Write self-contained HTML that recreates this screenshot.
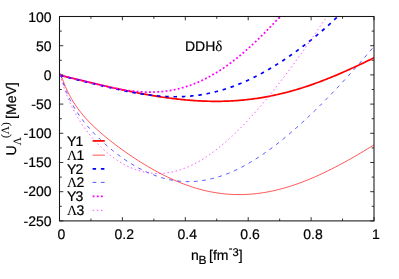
<!DOCTYPE html>
<html><head><meta charset="utf-8"><title>DDH delta</title>
<style>
html,body{margin:0;padding:0;background:#fff;}
body{width:399px;height:279px;overflow:hidden;font-family:"Liberation Sans",sans-serif;}
svg{display:block;will-change:transform;}
text{font-family:"Liberation Sans",sans-serif;font-size:14px;fill:#000;stroke:#000;stroke-width:0.2px;text-rendering:geometricPrecision;}
.sym{font-family:"Liberation Serif",serif;stroke-width:0.1px;}
</style></head><body>
<svg width="399" height="279" viewBox="0 0 399 279">
<rect x="0" y="0" width="399" height="279" fill="#ffffff"/>
<defs><clipPath id="pc"><rect x="59.5" y="16.5" width="314.5" height="204.4"/></clipPath></defs>
<path d="M59.50,220.9 v-3.8 M59.50,16.5 v3.8 M90.95,220.9 v-2.3 M90.95,16.5 v2.3 M122.40,220.9 v-3.8 M122.40,16.5 v3.8 M153.85,220.9 v-2.3 M153.85,16.5 v2.3 M185.30,220.9 v-3.8 M185.30,16.5 v3.8 M216.75,220.9 v-2.3 M216.75,16.5 v2.3 M248.20,220.9 v-3.8 M248.20,16.5 v3.8 M279.65,220.9 v-2.3 M279.65,16.5 v2.3 M311.10,220.9 v-3.8 M311.10,16.5 v3.8 M342.55,220.9 v-2.3 M342.55,16.5 v2.3 M374.00,220.9 v-3.8 M374.00,16.5 v3.8 M59.5,16.50 h3.8 M374.0,16.50 h-3.8 M59.5,31.10 h2.3 M374.0,31.10 h-2.3 M59.5,45.70 h3.8 M374.0,45.70 h-3.8 M59.5,60.30 h2.3 M374.0,60.30 h-2.3 M59.5,74.90 h3.8 M374.0,74.90 h-3.8 M59.5,89.50 h2.3 M374.0,89.50 h-2.3 M59.5,104.10 h3.8 M374.0,104.10 h-3.8 M59.5,118.70 h2.3 M374.0,118.70 h-2.3 M59.5,133.30 h3.8 M374.0,133.30 h-3.8 M59.5,147.90 h2.3 M374.0,147.90 h-2.3 M59.5,162.50 h3.8 M374.0,162.50 h-3.8 M59.5,177.10 h2.3 M374.0,177.10 h-2.3 M59.5,191.70 h3.8 M374.0,191.70 h-3.8 M59.5,206.30 h2.3 M374.0,206.30 h-2.3 M59.5,220.90 h3.8 M374.0,220.90 h-3.8" stroke="#111" stroke-width="0.85" fill="none"/>
<g clip-path="url(#pc)" fill="none" stroke-linecap="butt" stroke-linejoin="round">
<path d="M59.90,75.30 L60.21,75.37 L60.52,75.45 L60.82,75.52 L61.13,75.59 L61.44,75.67 L61.75,75.74 L62.05,75.82 L62.36,75.89 L62.67,75.96 L62.98,76.04 L63.28,76.11 L63.59,76.18 L63.90,76.26 L64.21,76.33 L64.52,76.41 L64.82,76.48 L65.13,76.55 L65.44,76.63 L65.75,76.70 L66.05,76.77 L66.36,76.85 L66.67,76.92 L66.98,76.99 L67.28,77.07 L67.59,77.14 L67.90,77.22 L68.21,77.29 L68.52,77.36 L68.82,77.44 L69.13,77.51 L69.44,77.58 L69.75,77.66 L70.05,77.73 L70.36,77.81 L70.67,77.88 L70.98,77.95 L71.28,78.03 L71.59,78.10 L71.90,78.17 L73.35,78.52 L74.80,78.87 L76.25,79.21 L77.70,79.56 L79.15,79.91 L80.60,80.25 L82.05,80.60 L83.50,80.94 L84.95,81.29 L86.40,81.63 L87.85,81.97 L89.30,82.31 L90.75,82.66 L92.20,83.00 L93.65,83.34 L95.10,83.67 L96.55,84.01 L98.00,84.35 L99.45,84.68 L100.90,85.02 L102.36,85.35 L103.81,85.68 L105.26,86.01 L106.71,86.34 L108.16,86.67 L109.61,86.99 L111.06,87.32 L112.51,87.64 L113.96,87.96 L115.41,88.28 L116.86,88.59 L118.31,88.91 L119.76,89.22 L121.21,89.53 L122.66,89.84 L124.11,90.14 L125.56,90.45 L127.01,90.75 L128.46,91.04 L129.91,91.34 L131.36,91.63 L132.81,91.92 L134.26,92.21 L135.71,92.49 L137.16,92.77 L138.61,93.05 L140.06,93.33 L141.51,93.60 L142.96,93.87 L144.41,94.13 L145.86,94.39 L147.31,94.65 L148.76,94.90 L150.21,95.15 L151.66,95.40 L153.11,95.64 L154.56,95.88 L156.01,96.12 L157.46,96.35 L158.91,96.57 L160.36,96.80 L161.81,97.01 L163.27,97.23 L164.72,97.44 L166.17,97.64 L167.62,97.84 L169.07,98.03 L170.52,98.22 L171.97,98.41 L173.42,98.59 L174.87,98.76 L176.32,98.93 L177.77,99.10 L179.22,99.26 L180.67,99.41 L182.12,99.56 L183.57,99.71 L185.02,99.84 L186.47,99.98 L187.92,100.10 L189.37,100.22 L190.82,100.34 L192.27,100.45 L193.72,100.55 L195.17,100.65 L196.62,100.74 L198.07,100.82 L199.52,100.90 L200.97,100.97 L202.42,101.04 L203.87,101.10 L205.32,101.15 L206.77,101.20 L208.22,101.24 L209.67,101.27 L211.12,101.30 L212.57,101.31 L214.02,101.33 L215.47,101.33 L216.92,101.33 L218.37,101.32 L219.82,101.31 L221.27,101.29 L222.72,101.26 L224.18,101.22 L225.63,101.18 L227.08,101.12 L228.53,101.07 L229.98,101.00 L231.43,100.93 L232.88,100.84 L234.33,100.76 L235.78,100.66 L237.23,100.56 L238.68,100.45 L240.13,100.33 L241.58,100.20 L243.03,100.06 L244.48,99.92 L245.93,99.77 L247.38,99.62 L248.83,99.45 L250.28,99.28 L251.73,99.09 L253.18,98.91 L254.63,98.71 L256.08,98.50 L257.53,98.29 L258.98,98.07 L260.43,97.84 L261.88,97.60 L263.33,97.36 L264.78,97.11 L266.23,96.84 L267.68,96.58 L269.13,96.30 L270.58,96.01 L272.03,95.72 L273.48,95.42 L274.93,95.11 L276.38,94.79 L277.83,94.47 L279.28,94.14 L280.73,93.79 L282.18,93.45 L283.63,93.09 L285.09,92.72 L286.54,92.35 L287.99,91.97 L289.44,91.58 L290.89,91.19 L292.34,90.78 L293.79,90.37 L295.24,89.95 L296.69,89.53 L298.14,89.09 L299.59,88.65 L301.04,88.20 L302.49,87.75 L303.94,87.28 L305.39,86.81 L306.84,86.33 L308.29,85.85 L309.74,85.35 L311.19,84.85 L312.64,84.35 L314.09,83.83 L315.54,83.31 L316.99,82.78 L318.44,82.25 L319.89,81.71 L321.34,81.16 L322.79,80.61 L324.24,80.05 L325.69,79.48 L327.14,78.91 L328.59,78.33 L330.04,77.74 L331.49,77.15 L332.94,76.56 L334.39,75.95 L335.84,75.35 L337.29,74.73 L338.74,74.12 L340.19,73.49 L341.64,72.86 L343.09,72.23 L344.54,71.59 L346.00,70.95 L347.45,70.30 L348.90,69.65 L350.35,68.99 L351.80,68.33 L353.25,67.67 L354.70,67.00 L356.15,66.33 L357.60,65.65 L359.05,64.97 L360.50,64.29 L361.95,63.61 L363.40,62.92 L364.85,62.23 L366.30,61.54 L367.75,60.84 L369.20,60.14 L370.65,59.45 L372.10,58.74 L373.55,58.04 L375.00,57.34" stroke="#ff0000" stroke-width="1.7"/>
<path d="M59.90,75.30 L60.21,73.56 L60.52,73.97 L60.82,74.65 L61.13,75.42 L61.44,76.23 L61.75,77.07 L62.05,77.91 L62.36,78.75 L62.67,79.58 L62.98,80.41 L63.28,81.22 L63.59,82.02 L63.90,82.81 L64.21,83.59 L64.52,84.35 L64.82,85.11 L65.13,85.85 L65.44,86.57 L65.75,87.29 L66.05,87.99 L66.36,88.68 L66.67,89.36 L66.98,90.03 L67.28,90.69 L67.59,91.34 L67.90,91.98 L68.21,92.60 L68.52,93.22 L68.82,93.83 L69.13,94.43 L69.44,95.02 L69.75,95.61 L70.05,96.18 L70.36,96.75 L70.67,97.30 L70.98,97.85 L71.28,98.40 L71.59,98.93 L71.90,99.46 L73.35,101.87 L74.80,104.14 L76.25,106.29 L77.70,108.33 L79.15,110.29 L80.60,112.16 L82.05,113.95 L83.50,115.68 L84.95,117.35 L86.40,118.96 L87.85,120.52 L89.30,122.04 L90.75,123.52 L92.20,124.96 L93.65,126.37 L95.10,127.74 L96.55,129.08 L98.00,130.40 L99.45,131.70 L100.90,132.97 L102.36,134.22 L103.81,135.45 L105.26,136.66 L106.71,137.85 L108.16,139.03 L109.61,140.19 L111.06,141.34 L112.51,142.47 L113.96,143.59 L115.41,144.69 L116.86,145.79 L118.31,146.87 L119.76,147.93 L121.21,148.99 L122.66,150.04 L124.11,151.07 L125.56,152.09 L127.01,153.11 L128.46,154.11 L129.91,155.10 L131.36,156.08 L132.81,157.05 L134.26,158.01 L135.71,158.96 L137.16,159.90 L138.61,160.83 L140.06,161.75 L141.51,162.66 L142.96,163.55 L144.41,164.44 L145.86,165.31 L147.31,166.18 L148.76,167.03 L150.21,167.87 L151.66,168.71 L153.11,169.53 L154.56,170.33 L156.01,171.13 L157.46,171.92 L158.91,172.69 L160.36,173.45 L161.81,174.20 L163.27,174.94 L164.72,175.67 L166.17,176.38 L167.62,177.08 L169.07,177.77 L170.52,178.45 L171.97,179.11 L173.42,179.76 L174.87,180.40 L176.32,181.02 L177.77,181.63 L179.22,182.23 L180.67,182.82 L182.12,183.39 L183.57,183.95 L185.02,184.49 L186.47,185.02 L187.92,185.54 L189.37,186.04 L190.82,186.53 L192.27,187.01 L193.72,187.47 L195.17,187.91 L196.62,188.35 L198.07,188.77 L199.52,189.17 L200.97,189.56 L202.42,189.94 L203.87,190.30 L205.32,190.64 L206.77,190.98 L208.22,191.29 L209.67,191.60 L211.12,191.89 L212.57,192.16 L214.02,192.42 L215.47,192.67 L216.92,192.90 L218.37,193.11 L219.82,193.31 L221.27,193.50 L222.72,193.67 L224.18,193.83 L225.63,193.97 L227.08,194.10 L228.53,194.21 L229.98,194.31 L231.43,194.40 L232.88,194.47 L234.33,194.52 L235.78,194.57 L237.23,194.59 L238.68,194.61 L240.13,194.60 L241.58,194.59 L243.03,194.56 L244.48,194.51 L245.93,194.45 L247.38,194.38 L248.83,194.30 L250.28,194.19 L251.73,194.08 L253.18,193.95 L254.63,193.81 L256.08,193.65 L257.53,193.48 L258.98,193.30 L260.43,193.11 L261.88,192.90 L263.33,192.67 L264.78,192.44 L266.23,192.19 L267.68,191.92 L269.13,191.65 L270.58,191.36 L272.03,191.06 L273.48,190.75 L274.93,190.42 L276.38,190.08 L277.83,189.73 L279.28,189.37 L280.73,188.99 L282.18,188.60 L283.63,188.20 L285.09,187.79 L286.54,187.37 L287.99,186.93 L289.44,186.49 L290.89,186.03 L292.34,185.56 L293.79,185.08 L295.24,184.59 L296.69,184.08 L298.14,183.57 L299.59,183.05 L301.04,182.51 L302.49,181.97 L303.94,181.41 L305.39,180.84 L306.84,180.27 L308.29,179.68 L309.74,179.09 L311.19,178.48 L312.64,177.87 L314.09,177.24 L315.54,176.61 L316.99,175.97 L318.44,175.31 L319.89,174.65 L321.34,173.98 L322.79,173.30 L324.24,172.62 L325.69,171.92 L327.14,171.22 L328.59,170.50 L330.04,169.78 L331.49,169.06 L332.94,168.32 L334.39,167.58 L335.84,166.83 L337.29,166.07 L338.74,165.30 L340.19,164.53 L341.64,163.75 L343.09,162.96 L344.54,162.17 L346.00,161.37 L347.45,160.57 L348.90,159.76 L350.35,158.94 L351.80,158.11 L353.25,157.28 L354.70,156.45 L356.15,155.61 L357.60,154.76 L359.05,153.91 L360.50,153.05 L361.95,152.19 L363.40,151.32 L364.85,150.45 L366.30,149.57 L367.75,148.69 L369.20,147.81 L370.65,146.92 L372.10,146.02 L373.55,145.12 L375.00,144.22" stroke="#ff0000" stroke-width="0.68"/>
<path d="M59.90,75.30 L60.21,75.38 L60.52,75.46 L60.82,75.54 L61.13,75.62 L61.44,75.70 L61.75,75.78 L62.05,75.86 L62.36,75.93 L62.67,76.01 L62.98,76.09 L63.28,76.17 L63.59,76.25 L63.90,76.33 L64.21,76.41 L64.52,76.49 L64.82,76.56 L65.13,76.64 L65.44,76.72 L65.75,76.80 L66.05,76.88 L66.36,76.96 L66.67,77.03 L66.98,77.11 L67.28,77.19 L67.59,77.27 L67.90,77.35 L68.21,77.42 L68.52,77.50 L68.82,77.58 L69.13,77.66 L69.44,77.74 L69.75,77.81 L70.05,77.89 L70.36,77.97 L70.67,78.05 L70.98,78.12 L71.28,78.20 L71.59,78.28 L71.90,78.36 L73.35,78.72 L74.79,79.08 L76.24,79.45 L77.69,79.81 L79.13,80.17 L80.58,80.53 L82.03,80.89 L83.47,81.25 L84.92,81.61 L86.37,81.97 L87.81,82.33 L89.26,82.68 L90.71,83.04 L92.15,83.40 L93.60,83.75 L95.05,84.10 L96.50,84.45 L97.94,84.81 L99.39,85.15 L100.84,85.50 L102.28,85.85 L103.73,86.19 L105.18,86.53 L106.62,86.87 L108.07,87.21 L109.52,87.54 L110.96,87.88 L112.41,88.21 L113.86,88.53 L115.30,88.85 L116.75,89.17 L118.20,89.49 L119.64,89.80 L121.09,90.11 L122.54,90.41 L123.98,90.71 L125.43,91.01 L126.88,91.30 L128.32,91.58 L129.77,91.86 L131.22,92.13 L132.66,92.40 L134.11,92.66 L135.56,92.92 L137.00,93.17 L138.45,93.41 L139.90,93.65 L141.35,93.88 L142.79,94.10 L144.24,94.31 L145.69,94.52 L147.13,94.72 L148.58,94.91 L150.03,95.09 L151.47,95.26 L152.92,95.43 L154.37,95.59 L155.81,95.73 L157.26,95.87 L158.71,96.00 L160.15,96.12 L161.60,96.23 L163.05,96.32 L164.49,96.41 L165.94,96.49 L167.39,96.56 L168.83,96.61 L170.28,96.66 L171.73,96.69 L173.17,96.72 L174.62,96.73 L176.07,96.73 L177.51,96.72 L178.96,96.69 L180.41,96.66 L181.85,96.61 L183.30,96.55 L184.75,96.48 L186.20,96.39 L187.64,96.29 L189.09,96.18 L190.54,96.06 L191.98,95.92 L193.43,95.77 L194.88,95.61 L196.32,95.43 L197.77,95.25 L199.22,95.04 L200.66,94.83 L202.11,94.60 L203.56,94.35 L205.00,94.10 L206.45,93.83 L207.90,93.54 L209.34,93.25 L210.79,92.94 L212.24,92.61 L213.68,92.27 L215.13,91.92 L216.58,91.55 L218.02,91.17 L219.47,90.78 L220.92,90.37 L222.36,89.95 L223.81,89.51 L225.26,89.06 L226.70,88.60 L228.15,88.12 L229.60,87.63 L231.05,87.13 L232.49,86.61 L233.94,86.08 L235.39,85.53 L236.83,84.97 L238.28,84.40 L239.73,83.82 L241.17,83.22 L242.62,82.61 L244.07,81.98 L245.51,81.34 L246.96,80.69 L248.41,80.03 L249.85,79.35 L251.30,78.66 L252.75,77.96 L254.19,77.24 L255.64,76.51 L257.09,75.77 L258.53,75.02 L259.98,74.26 L261.43,73.48 L262.87,72.69 L264.32,71.89 L265.77,71.08 L267.21,70.25 L268.66,69.42 L270.11,68.57 L271.55,67.71 L273.00,66.84 L274.45,65.95 L275.90,65.06 L277.34,64.15 L278.79,63.24 L280.24,62.31 L281.68,61.37 L283.13,60.42 L284.58,59.46 L286.02,58.49 L287.47,57.51 L288.92,56.52 L290.36,55.51 L291.81,54.50 L293.26,53.48 L294.70,52.44 L296.15,51.40 L297.60,50.34 L299.04,49.27 L300.49,48.20 L301.94,47.11 L303.38,46.01 L304.83,44.90 L306.28,43.78 L307.72,42.65 L309.17,41.51 L310.62,40.36 L312.06,39.20 L313.51,38.02 L314.96,36.84 L316.40,35.64 L317.85,34.44 L319.30,33.22 L320.75,31.99 L322.19,30.74 L323.64,29.49 L325.09,28.22 L326.53,26.94 L327.98,25.65 L329.43,24.35 L330.87,23.03 L332.32,21.70 L333.77,20.35 L335.21,18.99 L336.66,17.62 L338.11,16.23 L339.55,14.82 L341.00,13.40" stroke="#0000ff" stroke-width="1.7" stroke-dasharray="3.5,4.8" stroke-dashoffset="0.3"/>
<path d="M59.90,75.30 L60.21,73.84 L60.52,74.50 L60.82,75.38 L61.13,76.34 L61.44,77.33 L61.75,78.32 L62.05,79.31 L62.36,80.29 L62.67,81.25 L62.98,82.20 L63.28,83.13 L63.59,84.04 L63.90,84.94 L64.21,85.82 L64.52,86.68 L64.82,87.52 L65.13,88.35 L65.44,89.17 L65.75,89.96 L66.05,90.75 L66.36,91.52 L66.67,92.27 L66.98,93.01 L67.28,93.74 L67.59,94.46 L67.90,95.17 L68.21,95.86 L68.52,96.54 L68.82,97.21 L69.13,97.87 L69.44,98.52 L69.75,99.16 L70.05,99.79 L70.36,100.42 L70.67,101.03 L70.98,101.63 L71.28,102.23 L71.59,102.82 L71.90,103.40 L73.35,106.03 L74.80,108.52 L76.25,110.88 L77.70,113.13 L79.15,115.27 L80.60,117.33 L82.05,119.30 L83.50,121.21 L84.95,123.05 L86.40,124.83 L87.85,126.55 L89.30,128.23 L90.75,129.86 L92.20,131.45 L93.65,133.00 L95.10,134.51 L96.55,135.99 L98.00,137.43 L99.45,138.85 L100.90,140.24 L102.36,141.59 L103.81,142.93 L105.26,144.23 L106.71,145.51 L108.16,146.77 L109.61,148.00 L111.06,149.21 L112.51,150.39 L113.96,151.56 L115.41,152.70 L116.86,153.82 L118.31,154.92 L119.76,155.99 L121.21,157.05 L122.66,158.08 L124.11,159.09 L125.56,160.08 L127.01,161.05 L128.46,162.00 L129.91,162.92 L131.36,163.83 L132.81,164.71 L134.26,165.57 L135.71,166.41 L137.16,167.23 L138.61,168.03 L140.06,168.80 L141.51,169.56 L142.96,170.29 L144.41,170.99 L145.86,171.68 L147.31,172.34 L148.76,172.98 L150.21,173.60 L151.66,174.20 L153.11,174.77 L154.56,175.32 L156.01,175.85 L157.46,176.36 L158.91,176.84 L160.36,177.30 L161.81,177.73 L163.27,178.15 L164.72,178.53 L166.17,178.90 L167.62,179.24 L169.07,179.56 L170.52,179.86 L171.97,180.14 L173.42,180.39 L174.87,180.61 L176.32,180.82 L177.77,181.00 L179.22,181.16 L180.67,181.29 L182.12,181.40 L183.57,181.49 L185.02,181.55 L186.47,181.60 L187.92,181.62 L189.37,181.61 L190.82,181.59 L192.27,181.54 L193.72,181.47 L195.17,181.37 L196.62,181.26 L198.07,181.12 L199.52,180.96 L200.97,180.77 L202.42,180.57 L203.87,180.34 L205.32,180.09 L206.77,179.82 L208.22,179.53 L209.67,179.22 L211.12,178.88 L212.57,178.53 L214.02,178.15 L215.47,177.75 L216.92,177.33 L218.37,176.89 L219.82,176.43 L221.27,175.95 L222.72,175.45 L224.18,174.93 L225.63,174.39 L227.08,173.83 L228.53,173.26 L229.98,172.66 L231.43,172.04 L232.88,171.41 L234.33,170.75 L235.78,170.08 L237.23,169.39 L238.68,168.68 L240.13,167.95 L241.58,167.20 L243.03,166.44 L244.48,165.66 L245.93,164.86 L247.38,164.05 L248.83,163.22 L250.28,162.37 L251.73,161.50 L253.18,160.62 L254.63,159.72 L256.08,158.81 L257.53,157.88 L258.98,156.94 L260.43,155.98 L261.88,155.00 L263.33,154.01 L264.78,153.01 L266.23,151.99 L267.68,150.96 L269.13,149.91 L270.58,148.85 L272.03,147.77 L273.48,146.68 L274.93,145.58 L276.38,144.46 L277.83,143.33 L279.28,142.19 L280.73,141.04 L282.18,139.87 L283.63,138.69 L285.09,137.50 L286.54,136.29 L287.99,135.08 L289.44,133.85 L290.89,132.61 L292.34,131.36 L293.79,130.10 L295.24,128.83 L296.69,127.54 L298.14,126.25 L299.59,124.94 L301.04,123.63 L302.49,122.30 L303.94,120.97 L305.39,119.62 L306.84,118.27 L308.29,116.90 L309.74,115.53 L311.19,114.14 L312.64,112.75 L314.09,111.35 L315.54,109.93 L316.99,108.51 L318.44,107.08 L319.89,105.65 L321.34,104.20 L322.79,102.74 L324.24,101.28 L325.69,99.81 L327.14,98.33 L328.59,96.84 L330.04,95.34 L331.49,93.84 L332.94,92.33 L334.39,90.81 L335.84,89.28 L337.29,87.75 L338.74,86.20 L340.19,84.65 L341.64,83.10 L343.09,81.53 L344.54,79.96 L346.00,78.38 L347.45,76.79 L348.90,75.20 L350.35,73.59 L351.80,71.99 L353.25,70.37 L354.70,68.75 L356.15,67.12 L357.60,65.48 L359.05,63.83 L360.50,62.18 L361.95,60.52 L363.40,58.86 L364.85,57.18 L366.30,55.50 L367.75,53.81 L369.20,52.12 L370.65,50.42 L372.10,48.71 L373.55,46.99 L375.00,45.26" stroke="#0000ff" stroke-width="0.68" stroke-dasharray="3.7,4.6" stroke-dashoffset="-2.5"/>
<path d="M59.90,75.30 L60.21,75.36 L60.52,75.42 L60.82,75.49 L61.13,75.55 L61.44,75.61 L61.75,75.68 L62.05,75.74 L62.36,75.81 L62.67,75.87 L62.98,75.94 L63.28,76.00 L63.59,76.07 L63.90,76.14 L64.21,76.20 L64.52,76.27 L64.82,76.34 L65.13,76.41 L65.44,76.47 L65.75,76.54 L66.05,76.61 L66.36,76.68 L66.67,76.75 L66.98,76.82 L67.28,76.89 L67.59,76.96 L67.90,77.03 L68.21,77.10 L68.52,77.17 L68.82,77.24 L69.13,77.31 L69.44,77.38 L69.75,77.45 L70.05,77.52 L70.36,77.60 L70.67,77.67 L70.98,77.74 L71.28,77.81 L71.59,77.89 L71.90,77.96 L73.34,78.30 L74.77,78.65 L76.21,79.00 L77.64,79.36 L79.08,79.72 L80.52,80.08 L81.95,80.44 L83.39,80.80 L84.82,81.16 L86.26,81.53 L87.70,81.89 L89.13,82.26 L90.57,82.62 L92.00,82.98 L93.44,83.34 L94.88,83.70 L96.31,84.06 L97.75,84.41 L99.19,84.76 L100.62,85.11 L102.06,85.45 L103.49,85.79 L104.93,86.12 L106.37,86.45 L107.80,86.77 L109.24,87.09 L110.67,87.40 L112.11,87.70 L113.55,88.00 L114.98,88.29 L116.42,88.57 L117.85,88.84 L119.29,89.11 L120.73,89.36 L122.16,89.61 L123.60,89.85 L125.03,90.07 L126.47,90.29 L127.91,90.50 L129.34,90.69 L130.78,90.88 L132.21,91.05 L133.65,91.21 L135.09,91.36 L136.52,91.49 L137.96,91.62 L139.39,91.73 L140.83,91.83 L142.27,91.91 L143.70,91.98 L145.14,92.03 L146.57,92.08 L148.01,92.10 L149.45,92.11 L150.88,92.11 L152.32,92.09 L153.76,92.05 L155.19,92.00 L156.63,91.94 L158.06,91.85 L159.50,91.75 L160.94,91.63 L162.37,91.50 L163.81,91.35 L165.24,91.18 L166.68,90.99 L168.12,90.79 L169.55,90.56 L170.99,90.32 L172.42,90.06 L173.86,89.79 L175.30,89.49 L176.73,89.17 L178.17,88.84 L179.60,88.48 L181.04,88.11 L182.48,87.72 L183.91,87.31 L185.35,86.88 L186.78,86.42 L188.22,85.95 L189.66,85.46 L191.09,84.95 L192.53,84.42 L193.96,83.87 L195.40,83.30 L196.84,82.71 L198.27,82.10 L199.71,81.46 L201.14,80.81 L202.58,80.14 L204.02,79.45 L205.45,78.73 L206.89,78.00 L208.33,77.25 L209.76,76.47 L211.20,75.68 L212.63,74.86 L214.07,74.03 L215.51,73.17 L216.94,72.30 L218.38,71.40 L219.81,70.49 L221.25,69.55 L222.69,68.60 L224.12,67.62 L225.56,66.63 L226.99,65.61 L228.43,64.58 L229.87,63.53 L231.30,62.46 L232.74,61.37 L234.17,60.26 L235.61,59.14 L237.05,57.99 L238.48,56.83 L239.92,55.65 L241.35,54.45 L242.79,53.23 L244.23,52.00 L245.66,50.75 L247.10,49.48 L248.53,48.20 L249.97,46.90 L251.41,45.58 L252.84,44.25 L254.28,42.91 L255.71,41.55 L257.15,40.17 L258.59,38.78 L260.02,37.38 L261.46,35.96 L262.90,34.53 L264.33,33.08 L265.77,31.63 L267.20,30.16 L268.64,28.68 L270.08,27.19 L271.51,25.69 L272.95,24.17 L274.38,22.65 L275.82,21.12 L277.26,19.58 L278.69,18.03 L280.13,16.48 L281.56,14.91 L283.00,13.34" stroke="#ff00ff" stroke-width="1.7" stroke-dasharray="1.9,2.25" stroke-dashoffset="0.45"/>
<path d="M59.90,75.30 L60.21,74.98 L60.52,75.92 L60.82,76.98 L61.13,78.06 L61.44,79.14 L61.75,80.21 L62.05,81.27 L62.36,82.30 L62.67,83.32 L62.98,84.31 L63.28,85.29 L63.59,86.25 L63.90,87.19 L64.21,88.11 L64.52,89.01 L64.82,89.90 L65.13,90.77 L65.44,91.63 L65.75,92.47 L66.05,93.29 L66.36,94.11 L66.67,94.90 L66.98,95.69 L67.28,96.47 L67.59,97.23 L67.90,97.98 L68.21,98.72 L68.52,99.45 L68.82,100.17 L69.13,100.87 L69.44,101.57 L69.75,102.26 L70.05,102.94 L70.36,103.61 L70.67,104.28 L70.98,104.93 L71.28,105.58 L71.59,106.22 L71.90,106.85 L73.34,109.71 L74.79,112.43 L76.23,115.02 L77.68,117.50 L79.12,119.87 L80.57,122.14 L82.01,124.33 L83.46,126.43 L84.90,128.46 L86.34,130.42 L87.79,132.32 L89.23,134.15 L90.68,135.92 L92.12,137.64 L93.57,139.31 L95.01,140.92 L96.45,142.48 L97.90,144.00 L99.34,145.47 L100.79,146.90 L102.23,148.28 L103.68,149.62 L105.12,150.92 L106.57,152.18 L108.01,153.39 L109.45,154.57 L110.90,155.71 L112.34,156.81 L113.79,157.88 L115.23,158.90 L116.68,159.89 L118.12,160.85 L119.56,161.76 L121.01,162.64 L122.45,163.49 L123.90,164.30 L125.34,165.07 L126.79,165.81 L128.23,166.52 L129.68,167.18 L131.12,167.82 L132.56,168.42 L134.01,168.98 L135.45,169.52 L136.90,170.01 L138.34,170.48 L139.79,170.91 L141.23,171.30 L142.67,171.67 L144.12,171.99 L145.56,172.29 L147.01,172.55 L148.45,172.78 L149.90,172.98 L151.34,173.15 L152.79,173.28 L154.23,173.38 L155.67,173.44 L157.12,173.48 L158.56,173.48 L160.01,173.45 L161.45,173.39 L162.90,173.30 L164.34,173.18 L165.78,173.03 L167.23,172.84 L168.67,172.62 L170.12,172.38 L171.56,172.10 L173.01,171.80 L174.45,171.46 L175.90,171.09 L177.34,170.70 L178.78,170.27 L180.23,169.82 L181.67,169.33 L183.12,168.82 L184.56,168.28 L186.01,167.71 L187.45,167.11 L188.89,166.49 L190.34,165.84 L191.78,165.16 L193.23,164.45 L194.67,163.72 L196.12,162.96 L197.56,162.17 L199.01,161.36 L200.45,160.52 L201.89,159.66 L203.34,158.77 L204.78,157.85 L206.23,156.91 L207.67,155.95 L209.12,154.96 L210.56,153.95 L212.01,152.91 L213.45,151.85 L214.89,150.77 L216.34,149.67 L217.78,148.54 L219.23,147.39 L220.67,146.22 L222.12,145.02 L223.56,143.81 L225.00,142.57 L226.45,141.31 L227.89,140.03 L229.34,138.73 L230.78,137.41 L232.23,136.07 L233.67,134.71 L235.12,133.33 L236.56,131.93 L238.00,130.51 L239.45,129.08 L240.89,127.62 L242.34,126.15 L243.78,124.66 L245.23,123.15 L246.67,121.63 L248.11,120.08 L249.56,118.52 L251.00,116.95 L252.45,115.36 L253.89,113.75 L255.34,112.12 L256.78,110.48 L258.23,108.83 L259.67,107.16 L261.11,105.47 L262.56,103.77 L264.00,102.06 L265.45,100.33 L266.89,98.59 L268.34,96.83 L269.78,95.06 L271.22,93.28 L272.67,91.48 L274.11,89.67 L275.56,87.85 L277.00,86.02 L278.45,84.17 L279.89,82.31 L281.34,80.44 L282.78,78.56 L284.22,76.67 L285.67,74.76 L287.11,72.85 L288.56,70.92 L290.00,68.98 L291.45,67.04 L292.89,65.08 L294.33,63.11 L295.78,61.13 L297.22,59.14 L298.67,57.15 L300.11,55.14 L301.56,53.12 L303.00,51.09 L304.45,49.06 L305.89,47.01 L307.33,44.96 L308.78,42.90 L310.22,40.83 L311.67,38.75 L313.11,36.66 L314.56,34.56 L316.00,32.46 L317.44,30.34 L318.89,28.22 L320.33,26.09 L321.78,23.96 L323.22,21.81 L324.67,19.66 L326.11,17.50 L327.56,15.33 L329.00,13.15" stroke="#ff00ff" stroke-width="0.68" stroke-dasharray="1.5,2.65" stroke-dashoffset="-0.6"/>
</g>
<rect x="59.5" y="16.5" width="314.50" height="204.40" fill="none" stroke="#161616" stroke-width="1.05"/>
<text x="51.5" y="21.75" text-anchor="end">100</text>
<text x="51.5" y="50.86" text-anchor="end">50</text>
<text x="51.5" y="79.98" text-anchor="end">0</text>
<text x="51.5" y="109.09" text-anchor="end">-50</text>
<text x="51.5" y="138.21" text-anchor="end">-100</text>
<text x="51.5" y="167.32" text-anchor="end">-150</text>
<text x="51.5" y="196.44" text-anchor="end">-200</text>
<text x="51.5" y="225.55" text-anchor="end">-250</text>
<text x="61.40" y="239.15" text-anchor="middle">0</text>
<text x="124.30" y="239.15" text-anchor="middle">0.2</text>
<text x="187.20" y="239.15" text-anchor="middle">0.4</text>
<text x="250.10" y="239.15" text-anchor="middle">0.6</text>
<text x="313.00" y="239.15" text-anchor="middle">0.8</text>
<text x="375.90" y="239.15" text-anchor="middle">1</text>
<text x="185" y="50.8">DDH<tspan class="sym" font-size="15">δ</tspan></text>
<text x="67" y="145.65">Y<tspan dx="-0.8">1</tspan></text>
<path d="M92.6,140.90 H104.8" stroke="#ff0000" stroke-width="1.7" fill="none"/>
<text x="67" y="159.90"><tspan class="sym">Λ</tspan><tspan dx="-0.6">1</tspan></text>
<path d="M92.6,155.15 H104.8" stroke="#ff0000" stroke-width="0.68" fill="none"/>
<text x="67" y="173.65">Y<tspan dx="-0.8">2</tspan></text>
<path d="M92.6,168.90 H104.8" stroke="#0000ff" stroke-width="1.7" stroke-dasharray="3.5,4.8" fill="none"/>
<text x="67" y="187.15"><tspan class="sym">Λ</tspan><tspan dx="-0.6">2</tspan></text>
<path d="M92.6,182.40 H104.8" stroke="#0000ff" stroke-width="0.68" stroke-dasharray="3.7,4.6" fill="none"/>
<text x="67" y="201.05">Y<tspan dx="-0.8">3</tspan></text>
<path d="M92.6,196.30 H104.8" stroke="#ff00ff" stroke-width="1.7" stroke-dasharray="1.9,2.25" fill="none"/>
<text x="67" y="215.05"><tspan class="sym">Λ</tspan><tspan dx="-0.6">3</tspan></text>
<path d="M92.6,210.30 H104.8" stroke="#ff00ff" stroke-width="0.68" stroke-dasharray="1.5,2.65" fill="none"/>
<text x="191" y="260.4">n<tspan font-size="12" dy="3.4" dx="-0.4">B</tspan><tspan dy="-3.4" dx="-1.2"> [fm</tspan><tspan font-size="11.2" dy="-8.6" dx="0.3">-</tspan><tspan font-size="11.2" dy="4">3</tspan><tspan dy="4.6">]</tspan></text>
<text transform="translate(16.1,155.4) rotate(-90)" x="0" y="0">U<tspan class="sym" font-size="11.2" dy="4.5">Λ</tspan><tspan class="sym" font-size="11.2" dy="-11.5" dx="-0.8">(Λ)</tspan><tspan dy="7" dx="-0.4"> [MeV]</tspan></text>
</svg>
</body></html>
